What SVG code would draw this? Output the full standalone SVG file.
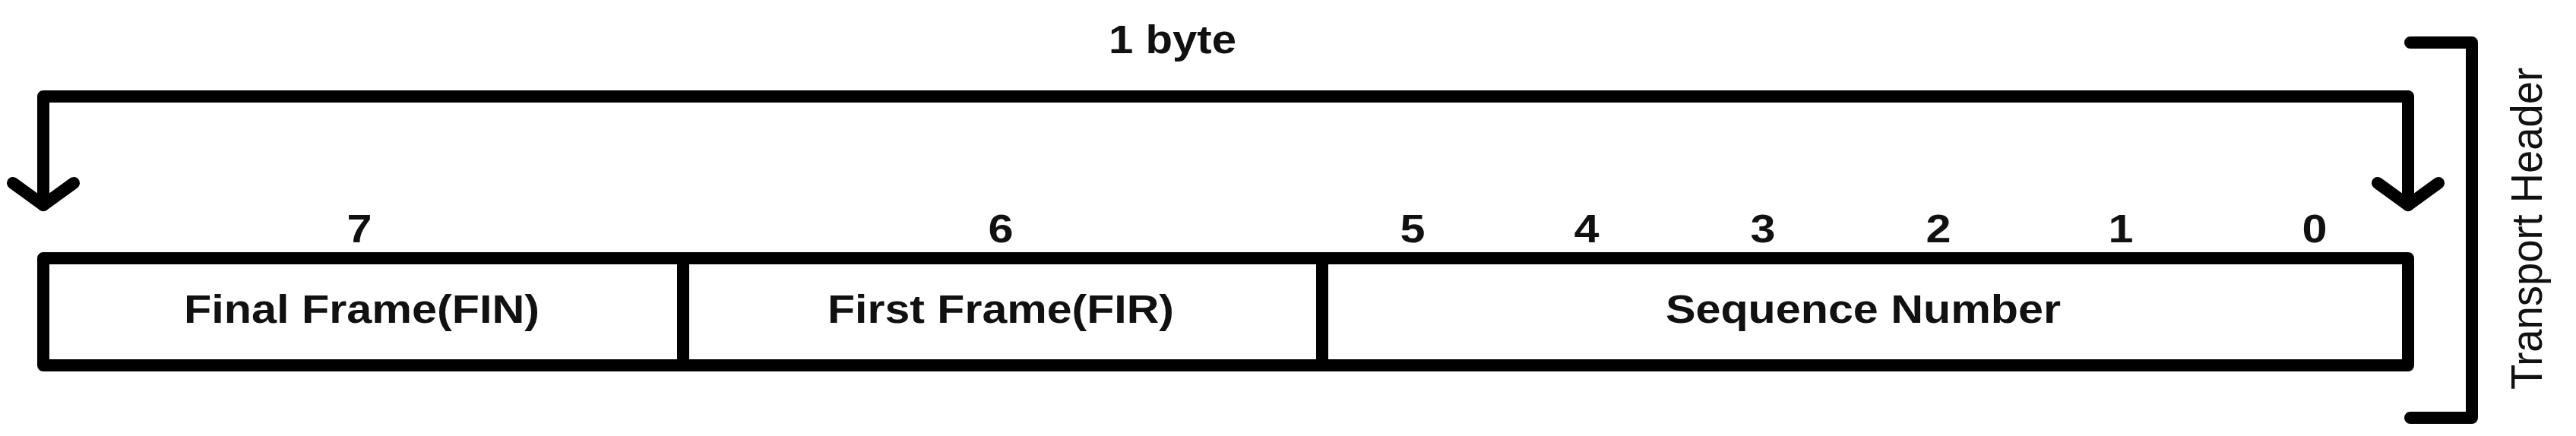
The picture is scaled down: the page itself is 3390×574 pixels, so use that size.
<svg xmlns="http://www.w3.org/2000/svg" width="3390" height="574" viewBox="0 0 3390 574">
<style>
.ln{fill:none;stroke:#000;stroke-width:16;stroke-linejoin:round;stroke-linecap:round}
.bx{fill:#fff;stroke:#000;stroke-width:16;stroke-linejoin:round}
.b{font-family:"Liberation Sans",Arial,sans-serif;font-weight:bold;font-size:51px;fill:#111;text-anchor:middle}
.r{font-family:"Liberation Sans",Arial,sans-serif;font-size:57px;fill:#111;text-anchor:middle}
</style>
<rect width="3390" height="574" fill="#fff"/>
<g id="connectors">
<path class="ln" d="M57 270 V127 H3169 V270"/>
<path class="ln" d="M17 241 L57 270 L97 241"/>
<path class="ln" d="M3129 241 L3169 270 L3209 241"/>
<path class="ln" d="M3172 56 H3253 V550 H3172"/>
</g>
<g id="label-byte"><text class="b" x="1543" y="70" textLength="168" lengthAdjust="spacingAndGlyphs">1 byte</text></g>
<g id="bits">
<text class="b" x="473" y="319" textLength="33" lengthAdjust="spacingAndGlyphs">7</text>
<text class="b" x="1317" y="319" textLength="33" lengthAdjust="spacingAndGlyphs">6</text>
<text class="b" x="1859" y="319" textLength="33" lengthAdjust="spacingAndGlyphs">5</text>
<text class="b" x="2088" y="319" textLength="33" lengthAdjust="spacingAndGlyphs">4</text>
<text class="b" x="2320" y="319" textLength="33" lengthAdjust="spacingAndGlyphs">3</text>
<text class="b" x="2551" y="319" textLength="33" lengthAdjust="spacingAndGlyphs">2</text>
<text class="b" x="2791" y="319" textLength="33" lengthAdjust="spacingAndGlyphs">1</text>
<text class="b" x="3046" y="319" textLength="33" lengthAdjust="spacingAndGlyphs">0</text>
</g>
<g id="field-fin">
<rect class="bx" x="57" y="340" width="842" height="141"/>
<text class="b" x="476" y="425" textLength="468" lengthAdjust="spacingAndGlyphs">Final Frame(FIN)</text>
</g>
<g id="field-fir">
<rect class="bx" x="899" y="340" width="841" height="141"/>
<text class="b" x="1317" y="425" textLength="456" lengthAdjust="spacingAndGlyphs">First Frame(FIR)</text>
</g>
<g id="field-seq">
<rect class="bx" x="1740" y="340" width="1429" height="141"/>
<text class="b" x="2452" y="425" textLength="520" lengthAdjust="spacingAndGlyphs">Sequence Number</text>
</g>
<g id="label-transport">
<text class="r" transform="translate(3345,301) rotate(-90)" x="0" y="0" textLength="424" lengthAdjust="spacingAndGlyphs">Transport Header</text>
</g>
</svg>
